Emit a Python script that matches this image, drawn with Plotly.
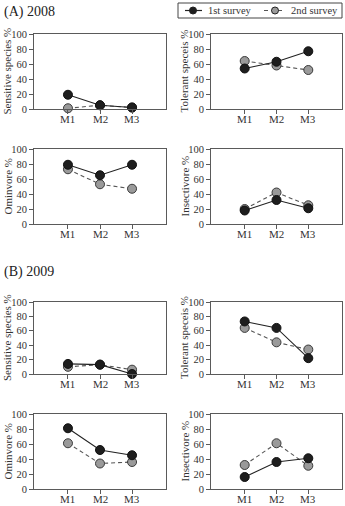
import plotly.graph_objects as go

W, H = 345, 506

categories = ["M1", "M2", "M3"]
y_ticks = [0, 20, 40, 60, 80, 100]
series_names = ["1st survey", "2nd survey"]

# (A) 2008
sens_2008_s1 = [19, 5, 2]
sens_2008_s2 = [1, 5, 2]
tol_2008_s1 = [54, 63, 77]
tol_2008_s2 = [64, 58, 52]
omn_2008_s1 = [79, 65, 79]
omn_2008_s2 = [73, 53, 47]
ins_2008_s1 = [18, 32, 21]
ins_2008_s2 = [20, 42, 25]

# (B) 2009
sens_2009_s1 = [14, 13, 0]
sens_2009_s2 = [10, 13, 6]
tol_2009_s1 = [73, 64, 22]
tol_2009_s2 = [64, 44, 34]
omn_2009_s1 = [81, 52, 45]
omn_2009_s2 = [61, 34, 36]
ins_2009_s1 = [16, 36, 41]
ins_2009_s2 = [32, 61, 31]

y_titles = ["Sensitive species %", "Tolerant speceis %", "Ominvore %", "Insectivore %"]
panel_titles = ["(A) 2008", "(B) 2009"]

FONT = "Liberation Serif"
AX = "#5a5a5a"
TXT = "#333333"
C1_FILL, C1_LINE = "#1e1e1e", "#222222"
C2_FILL, C2_LINE = "#9a9a9a", "#555555"
DASH = "4px,3px"

# pixel layout
cols = [(34, 166), (211, 342)]
rows = [(34, 109), (149, 224), (302, 374), (414, 489)]
ytitle_x = [7, 184]


def px(x):
    return x / W


def py(y):
    return 1 - y / H


panels = [
    (sens_2008_s1, sens_2008_s2, 0, 0, 0),
    (tol_2008_s1, tol_2008_s2, 0, 1, 1),
    (omn_2008_s1, omn_2008_s2, 1, 0, 2),
    (ins_2008_s1, ins_2008_s2, 1, 1, 3),
    (sens_2009_s1, sens_2009_s2, 2, 0, 0),
    (tol_2009_s1, tol_2009_s2, 2, 1, 1),
    (omn_2009_s1, omn_2009_s2, 3, 0, 2),
    (ins_2009_s1, ins_2009_s2, 3, 1, 3),
]

fig = go.Figure()
annotations = []
shapes = []

for i, (s1, s2, r, c, ti) in enumerate(panels):
    n = i + 1
    xa = "x" if n == 1 else f"x{n}"
    ya = "y" if n == 1 else f"y{n}"
    fig.add_trace(go.Scatter(
        x=categories, y=s2, xaxis=xa, yaxis=ya, name=series_names[1],
        mode="lines+markers", showlegend=False, cliponaxis=False,
        line=dict(color=C2_LINE, width=1.1, dash=DASH),
        marker=dict(size=9, color=C2_FILL, line=dict(color="#3a3a3a", width=1)),
    ))
    fig.add_trace(go.Scatter(
        x=categories, y=s1, xaxis=xa, yaxis=ya, name=series_names[0],
        mode="lines+markers", showlegend=False, cliponaxis=False,
        line=dict(color=C1_LINE, width=1.1),
        marker=dict(size=9, color=C1_FILL, line=dict(color="#111111", width=1)),
    ))
    x0, x1 = cols[c]
    yt, yb = rows[r]
    xkey = "xaxis" if n == 1 else f"xaxis{n}"
    ykey = "yaxis" if n == 1 else f"yaxis{n}"
    fig.update_layout(**{
        xkey: dict(
            domain=[px(x0), px(x1)], anchor=ya, type="category",
            range=[-1.06, 3.06], showgrid=False, zeroline=False,
            showline=True, linecolor=AX, linewidth=1, mirror=True,
            ticks="outside", ticklen=4, tickcolor=AX, tickwidth=1,
            showticklabels=False, automargin=False,
        ),
        ykey: dict(
            domain=[py(yb), py(yt)], anchor=xa,
            range=[0, 100], tickvals=y_ticks, showgrid=False, zeroline=False,
            showline=True, linecolor=AX, linewidth=1, mirror=True,
            ticks="outside", ticklen=4, tickcolor=AX, tickwidth=1,
            tickfont=dict(family=FONT, size=10.5, color=TXT), automargin=False,
        ),
    })
    # x tick labels
    for cat in categories:
        annotations.append(dict(
            text=cat, xref=xa, yref="paper", x=cat, y=py(yb + 10),
            xanchor="center", yanchor="middle", showarrow=False,
            font=dict(family=FONT, size=11, color=TXT),
        ))
    annotations.append(dict(
        text=y_titles[ti], xref="paper", yref="paper",
        x=px(ytitle_x[c]), y=py((yt + yb) / 2),
        xanchor="center", yanchor="middle", textangle=-90, showarrow=False,
        font=dict(family=FONT, size=11, color=TXT),
    ))

for t, yc in zip(panel_titles, [12, 272]):
    annotations.append(dict(
        text=t, xref="paper", yref="paper", x=px(2), y=py(yc),
        xanchor="left", yanchor="middle", showarrow=False,
        font=dict(family=FONT, size=14, color="#222222"),
    ))

# legend box (drawn in paper coordinates)
LY = 10.5
shapes.append(dict(type="rect", xref="paper", yref="paper",
                   x0=px(178), x1=px(342), y0=py(18), y1=py(3),
                   line=dict(color="#444444", width=1), fillcolor="white"))
legend_items = [
    (185, 202, 193, C1_LINE, C1_FILL, "solid", 206),
    (264, 285, 275, C2_LINE, C2_FILL, DASH, 289),
]
for (lx0, lx1, mx, lc, fc, dash, tx), name in zip(legend_items, series_names):
    shapes.append(dict(type="line", xref="paper", yref="paper",
                       x0=px(lx0), x1=px(lx1), y0=py(LY), y1=py(LY),
                       line=dict(color=lc, width=1.2, dash=dash)))
    shapes.append(dict(type="circle", xref="paper", yref="paper",
                       x0=px(mx - 3.5), x1=px(mx + 3.5), y0=py(LY + 3.5), y1=py(LY - 3.5),
                       line=dict(color="#222222", width=1), fillcolor=fc))
    annotations.append(dict(
        text=name, xref="paper", yref="paper", x=px(tx), y=py(LY),
        xanchor="left", yanchor="middle", showarrow=False,
        font=dict(family=FONT, size=10.5, color=TXT),
    ))

fig.update_layout(
    width=W, height=H, margin=dict(l=0, r=0, t=0, b=0),
    paper_bgcolor="white", plot_bgcolor="white",
    annotations=annotations, shapes=shapes, showlegend=False,
)

fig.write_html("out.html")
